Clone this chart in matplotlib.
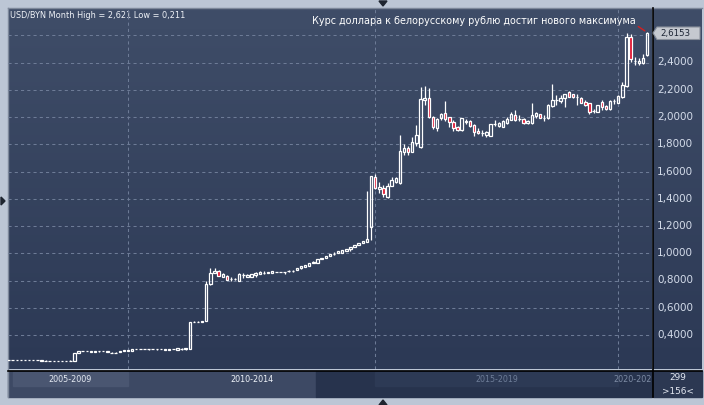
import numpy as np
import matplotlib
matplotlib.use("Agg")
import matplotlib.pyplot as plt
from matplotlib.patches import Rectangle, Polygon
import pandas as pd

# ---------------- data (monthly USD/BYN candles) ----------------
_m = pd.date_range("2007-08-01", "2020-08-01", freq="MS").strftime("%Y-%m").tolist()
months = [m for m in _m if m != "2016-07"]  # 156 bars (one month missing in feed)

opens = [0.2145, 0.2145, 0.2147, 0.2145, 0.2143, 0.2145, 0.2143, 0.2145, 0.2128, 0.2128,
         0.2115, 0.2113, 0.2115, 0.2112, 0.2115, 0.2116, 0.2125, 0.2700, 0.2820, 0.2825,
         0.2740, 0.2740, 0.2810, 0.2815, 0.2740, 0.2710, 0.2700, 0.2760, 0.2800, 0.2810,
         0.2860, 0.2950, 0.2950, 0.2955, 0.2950, 0.2955, 0.2950, 0.2960, 0.2900, 0.2910,
         0.2960, 0.2920, 0.2970, 0.2940, 0.2950, 0.4960, 0.4970, 0.4980, 0.5050, 0.7720,
         0.8530, 0.8700, 0.8290, 0.8330, 0.8130, 0.8100, 0.8000, 0.8400, 0.8280, 0.8280,
         0.8400, 0.8480, 0.8530, 0.8530, 0.8530, 0.8620, 0.8620, 0.8620, 0.8670, 0.8700,
         0.8750, 0.8890, 0.8970, 0.9090, 0.9300, 0.9310, 0.9580, 0.9630, 0.9800, 0.9950,
         1.0000, 1.0040, 1.0190, 1.0290, 1.0440, 1.0580, 1.0730, 1.0850, 1.1900, 1.5570,
         1.4700, 1.4770, 1.4110, 1.4940, 1.5250, 1.5180, 1.7430, 1.7720, 1.7450, 1.8070,
         1.7800, 2.1250, 2.1370, 2.0020, 1.9170, 1.9900, 2.0320, 1.9980, 1.9660, 1.9290,
         1.9050, 1.9650, 1.9710, 1.9410, 1.9000, 1.8830, 1.8680, 1.8610, 1.9470, 1.9340,
         1.9290, 1.9580, 1.9780, 2.0150, 1.9820, 1.9830, 1.9540, 1.9540, 2.0100, 2.0200,
         1.9950, 1.9900, 2.0800, 2.1250, 2.1170, 2.1370, 2.1810, 2.1670, 2.1490, 2.1420,
         2.1120, 2.1000, 2.0450, 2.0390, 2.1080, 2.0830, 2.0570, 2.1170, 2.1050, 2.1450,
         2.2280, 2.5850, 2.4130, 2.4000, 2.3990, 2.4550]
highs = [0.2150, 0.2150, 0.2152, 0.2150, 0.2150, 0.2162, 0.2160, 0.2162, 0.2152, 0.2132,
         0.2120, 0.2118, 0.2120, 0.2118, 0.2120, 0.2140, 0.2670, 0.2840, 0.2850, 0.2835,
         0.2840, 0.2840, 0.2860, 0.2825, 0.2835, 0.2735, 0.2735, 0.2855, 0.2910, 0.2910,
         0.2980, 0.2960, 0.2960, 0.2960, 0.3000, 0.2960, 0.3000, 0.2965, 0.3005, 0.3005,
         0.2970, 0.3030, 0.3040, 0.3030, 0.4940, 0.5000, 0.5010, 0.5040, 0.7960, 0.8920,
         0.8920, 0.8750, 0.8550, 0.8380, 0.8230, 0.8150, 0.8520, 0.8550, 0.8460, 0.8500,
         0.8600, 0.8700, 0.8700, 0.8650, 0.8720, 0.8630, 0.8630, 0.8630, 0.8750, 0.8800,
         0.8900, 0.9050, 0.9150, 0.9270, 0.9450, 0.9590, 0.9660, 0.9810, 0.9960, 1.0060,
         1.0180, 1.0230, 1.0340, 1.0470, 1.0610, 1.0760, 1.0910, 1.4590, 1.5700, 1.5790,
         1.5250, 1.5010, 1.5130, 1.5600, 1.5620, 1.8680, 1.8000, 1.7900, 1.8500, 1.9410,
         2.2220, 2.2280, 2.2100, 2.0100, 1.9900, 2.0300, 2.1170, 2.0000, 1.9800, 1.9350,
         1.9950, 1.9850, 1.9800, 1.9450, 1.9200, 1.9050, 1.8950, 1.9500, 1.9800, 1.9600,
         1.9800, 2.0000, 2.0400, 2.0480, 2.0150, 1.9900, 1.9780, 2.1000, 2.0400, 2.0250,
         2.0170, 2.0950, 2.2420, 2.1650, 2.1600, 2.1700, 2.1900, 2.1700, 2.1700, 2.1500,
         2.1250, 2.1050, 2.0600, 2.0900, 2.1280, 2.0900, 2.1280, 2.1300, 2.1600, 2.2590,
         2.6190, 2.6090, 2.4400, 2.4350, 2.4600, 2.6210]
lows = [0.2140, 0.2140, 0.2142, 0.2140, 0.2138, 0.2132, 0.2132, 0.2135, 0.2125, 0.2110,
        0.2110, 0.2110, 0.2110, 0.2110, 0.2110, 0.2112, 0.2120, 0.2690, 0.2790, 0.2810,
        0.2730, 0.2730, 0.2760, 0.2800, 0.2730, 0.2665, 0.2660, 0.2750, 0.2790, 0.2800,
        0.2850, 0.2940, 0.2940, 0.2940, 0.2930, 0.2945, 0.2930, 0.2950, 0.2890, 0.2900,
        0.2950, 0.2910, 0.2920, 0.2930, 0.2940, 0.4930, 0.4940, 0.4960, 0.5040, 0.7700,
        0.8520, 0.8330, 0.8260, 0.8040, 0.7950, 0.8050, 0.7980, 0.8200, 0.8260, 0.8270,
        0.8250, 0.8450, 0.8500, 0.8520, 0.8520, 0.8610, 0.8610, 0.8500, 0.8600, 0.8620,
        0.8740, 0.8880, 0.8960, 0.9080, 0.9250, 0.9300, 0.9570, 0.9620, 0.9790, 0.9870,
        0.9990, 1.0030, 1.0180, 1.0200, 1.0430, 1.0570, 1.0720, 1.0840, 1.0970, 1.4700,
        1.4440, 1.4150, 1.4050, 1.4900, 1.5150, 1.5100, 1.7200, 1.7200, 1.7400, 1.7870,
        1.7750, 2.0880, 1.9900, 1.9100, 1.9000, 1.9800, 1.9700, 1.9300, 1.9000, 1.9000,
        1.9000, 1.9500, 1.9300, 1.8600, 1.8780, 1.8640, 1.8500, 1.8580, 1.9350, 1.9280,
        1.9250, 1.9450, 1.9750, 1.9700, 1.9680, 1.9500, 1.9500, 1.9500, 1.9950, 1.9900,
        1.9720, 1.9850, 2.0750, 2.0880, 2.1000, 2.0760, 2.1450, 2.1400, 2.0850, 2.1000,
        2.0800, 2.0200, 2.0300, 2.0350, 2.0550, 2.0500, 2.0500, 2.0980, 2.1000, 2.1400,
        2.2200, 2.4060, 2.3800, 2.3800, 2.3900, 2.4480]
closes = [0.2145, 0.2147, 0.2145, 0.2143, 0.2145, 0.2143, 0.2145, 0.2142, 0.2150, 0.2115,
          0.2113, 0.2115, 0.2112, 0.2115, 0.2116, 0.2125, 0.2660, 0.2820, 0.2825, 0.2820,
          0.2820, 0.2820, 0.2815, 0.2810, 0.2820, 0.2700, 0.2705, 0.2850, 0.2900, 0.2900,
          0.2970, 0.2950, 0.2955, 0.2950, 0.2955, 0.2950, 0.2960, 0.2955, 0.2990, 0.2995,
          0.2960, 0.3020, 0.2980, 0.3020, 0.4930, 0.4970, 0.4975, 0.5010, 0.7720, 0.8530,
          0.8700, 0.8350, 0.8450, 0.8060, 0.8140, 0.8110, 0.8480, 0.8410, 0.8430, 0.8480,
          0.8550, 0.8600, 0.8535, 0.8620, 0.8700, 0.8620, 0.8625, 0.8620, 0.8680, 0.8710,
          0.8890, 0.9040, 0.9140, 0.9260, 0.9350, 0.9580, 0.9650, 0.9800, 0.9950, 0.9960,
          1.0170, 1.0220, 1.0330, 1.0460, 1.0600, 1.0750, 1.0900, 1.1050, 1.5670, 1.4820,
          1.4880, 1.4350, 1.4940, 1.5380, 1.5500, 1.7500, 1.7750, 1.7450, 1.8190, 1.8680,
          2.1320, 2.1400, 2.0020, 1.9250, 1.9830, 2.0220, 1.9850, 1.9610, 1.9220, 1.9050,
          1.9900, 1.9720, 1.9360, 1.8920, 1.8830, 1.8850, 1.8920, 1.9460, 1.9490, 1.9540,
          1.9730, 1.9830, 2.0220, 1.9780, 1.9840, 1.9580, 1.9710, 2.0150, 2.0270, 1.9950,
          1.9960, 2.0880, 2.1250, 2.1260, 2.1370, 2.1670, 2.1490, 2.1450, 2.1500, 2.1050,
          2.0880, 2.0390, 2.0470, 2.0880, 2.0760, 2.0570, 2.1170, 2.1180, 2.1540, 2.2350,
          2.5850, 2.4240, 2.4140, 2.4080, 2.4350, 2.6153]

period_labels = ["2005-2009", "2010-2014", "2015-2019", "2020-202"]
period_starts = ["2005-01", "2010-01", "2015-01", "2020-01"]
y_ticks = [0.4, 0.6, 0.8, 1.0, 1.2, 1.4, 1.6, 1.8, 2.0, 2.2, 2.4, 2.6]
title_text = "USD/BYN Month High = 2,621 Low = 0,211"
note_text = "Курс доллара к белорусскому рублю достиг нового максимума"
bar_total, bar_visible = "299", ">156<"

# ---------------- figure ----------------
W, H = 704, 405
fig = plt.figure(figsize=(W / 100, H / 100), dpi=100)
fig.patch.set_facecolor("#bcc6d5")

bg = fig.add_axes([0, 0, 1, 1])
bg.set_xlim(0, W)
bg.set_ylim(H, 0)
bg.axis("off")

PL, PR, PT, PB = 8, 652, 8, 369

def vgrad(x0, x1, y0, y1, ctop, cbot, z=0):
    t = np.linspace(0, 1, 64)[:, None, None]
    a = np.array(ctop)[None, None, :] / 255.0
    b = np.array(cbot)[None, None, :] / 255.0
    img = a * (1 - t) + b * t
    bg.imshow(img, extent=[x0, x1, y1, y0], aspect="auto", zorder=z, interpolation="bilinear")

# plot and right axis backgrounds
vgrad(PL, PR, PT, PB, (63, 77, 104), (44, 57, 85))
vgrad(PR + 1, 702, PT, PB, (63, 77, 104), (44, 57, 85))
bg.set_xlim(0, W); bg.set_ylim(H, 0)

# frame lines
bg.plot([PL - 0.5, PL - 0.5], [PT, 397], color="#7d889a", lw=1, zorder=3)
bg.plot([PL - 0.5, 702], [PT - 0.5, PT - 0.5], color="#7d889a", lw=1, zorder=3)
bg.plot([PR + 0.5, PR + 0.5], [PT, 397], color="#000000", lw=1.2, zorder=6)
bg.plot([PL, 702], [370.5, 370.5], color="#000000", lw=1.2, zorder=6)

# bottom navigator bar
bg.add_patch(Rectangle((PL, 371), 316 - PL, 26, color="#3d4964", zorder=1))
bg.add_patch(Rectangle((316, 371), PR - 316, 26, color="#27334d", zorder=1))
bg.add_patch(Rectangle((PR + 1, 371), 702 - PR - 1, 26, color="#2c3852", zorder=1))

# UI triangles
bg.add_patch(Polygon([(379, 1), (387, 1), (383, 6)], color="#1e2530", zorder=6))
bg.add_patch(Polygon([(379, 405), (387, 405), (383, 400)], color="#1e2530", zorder=6))
bg.add_patch(Polygon([(1, 197), (1, 205), (5, 201)], color="#1e2530", zorder=6))

# ---------------- main axes ----------------
ax = fig.add_axes([PL / W, 1 - PB / H, (PR - PL) / W, (PB - PT) / H])
ax.patch.set_alpha(0)
for s in ax.spines.values():
    s.set_visible(False)
ax.set_xticks([]); ax.set_yticks([])

n = len(opens)
xs = np.arange(n)
step = 4.12
x_left = (PL - 8.5) / step
x_right = (PR - 8.5) / step
ax.set_xlim(x_left, x_right)
y_of_px = lambda py: 2.0 + (117 - py) / 136.25
ax.set_ylim(y_of_px(PB), y_of_px(PT))

grid_c = "#6d7b96"
for t in y_ticks:
    ax.axhline(t, color=grid_c, lw=0.75, ls=(0, (3, 3)), zorder=1)
for p in period_starts[1:]:
    if p in months:
        ax.axvline(months.index(p), color=grid_c, lw=0.75, ls=(0, (3, 3)), zorder=1)

o = np.array(opens); h = np.array(highs); l = np.array(lows); c = np.array(closes)
up = c >= o
top = np.maximum(o, c); bot = np.minimum(o, c)
ax.vlines(xs, top, h, color="white", lw=0.9, zorder=3)
ax.vlines(xs, l, bot, color="white", lw=0.9, zorder=3)
bw = 0.6
ax.bar(xs[up], (c - o)[up], bottom=o[up], width=bw, facecolor="none",
       edgecolor="white", linewidth=0.9, zorder=4)
ax.bar(xs[~up], (o - c)[~up], bottom=c[~up], width=bw, facecolor="#e0102c",
       edgecolor="white", linewidth=0.9, zorder=4)

# ---------------- texts ----------------
renderer = fig.canvas.get_renderer()

def fit_text(x, y, s, width_px, **kw):
    t = bg.text(x, y, s, fontsize=10, **kw)
    wpx = t.get_window_extent(renderer=renderer).width
    t.set_fontsize(10 * width_px / wpx)
    return t

fit_text(10, 15, title_text, 174, color="#f0f3f8", ha="left", va="center",
         family="DejaVu Sans", zorder=8)
fit_text(312, 21, note_text, 324, color="#ffffff", ha="left", va="center",
         family="DejaVu Sans", zorder=8)

# red pointer from note to last candle
ax.annotate("", xy=(n - 1, highs[-1]), xycoords="data",
            xytext=(636, 25), textcoords=bg.transData,
            arrowprops=dict(arrowstyle="-", color="#d42020", lw=1.0), zorder=9)

# y-axis labels (the top one is hidden behind the last-price tag)
last_px = 117 - (closes[-1] - 2.0) * 136.25
for t in y_ticks:
    py = 117 - (t - 2.0) * 136.25
    if abs(py - last_px) < 12:
        continue
    fit_text(657, py, f"{t:.4f}".replace(".", ","), 36, color="#d4dcea",
             ha="left", va="center", family="DejaVu Sans", zorder=5)

# last price tag
bg.add_patch(Polygon([(653, 33), (657, 27), (700, 27), (700, 39.5), (657, 39.5)],
                     facecolor="#c5c9d0", edgecolor="#8a919c", lw=0.8, zorder=10))
fit_text(660, 33.3, f"{closes[-1]:.4f}".replace(".", ","), 30, color="#1c2434",
         ha="left", va="center", family="DejaVu Sans", zorder=11)

# navigator period boxes & labels
px_of_i = lambda i: 8.5 + step * i
box_edges = []
for p in period_starts:
    if p in months:
        box_edges.append(px_of_i(months.index(p)))
    else:
        box_edges.append(12.6)
box_edges.append(PR + 40)
box_cols = ["#4a5671", None, "#2d3a55", None]
txt_cols = ["#e4e9f2", "#eef2f8", "#6e7d98", "#7d8ba4"]
for k, lab in enumerate(period_labels):
    x0, x1 = box_edges[k], min(box_edges[k + 1], PR)
    if box_cols[k]:
        bg.add_patch(Rectangle((x0, 372), x1 - x0, 13.5, color=box_cols[k], zorder=2))
    cx = (box_edges[k] + box_edges[k + 1]) / 2 if k < 3 else 633
    t = fit_text(cx, 379, lab, 43 if k < 3 else 38, color=txt_cols[k], ha="center",
                 va="center", family="DejaVu Sans", zorder=4)
    t.set_clip_path(Rectangle((PL, 371), PR - PL, 26, transform=bg.transData))

t299 = fit_text(678, 378, bar_total, 17, color="#e4e9f2", ha="center", va="center",
                family="DejaVu Sans", zorder=4)
bg.text(678, 391, bar_visible, fontsize=t299.get_fontsize(), color="#e4e9f2",
        ha="center", va="center", family="DejaVu Sans", zorder=4)

fig.savefig("out.png", dpi=100, facecolor=fig.get_facecolor())
